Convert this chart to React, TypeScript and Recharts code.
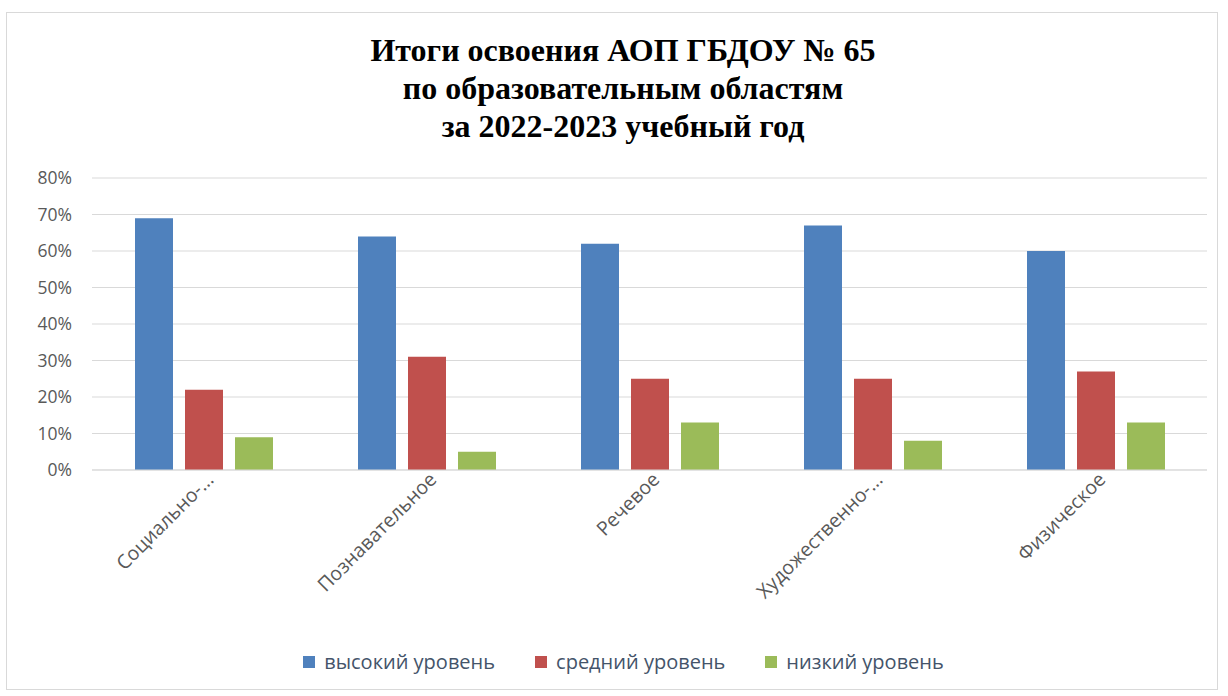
import React from "react";
import { BarChart, Bar, XAxis, YAxis, CartesianGrid, Legend } from "recharts";

const categories = ["Социально-...", "Познавательное", "Речевое", "Художественно-...", "Физическое"];
const high = [0.69, 0.64, 0.62, 0.67, 0.6];
const mid = [0.22, 0.31, 0.25, 0.25, 0.27];
const low = [0.09, 0.05, 0.13, 0.08, 0.13];
const yTicks = [0, 0.1, 0.2, 0.3, 0.4, 0.5, 0.6, 0.7, 0.8];
const titleLines = ["Итоги освоения АОП ГБДОУ № 65", "по образовательным областям", "за 2022-2023 учебный год"];
const seriesNames = ["высокий уровень", "средний уровень", "низкий уровень"];
const seriesColors = ["#4F81BD", "#C0504D", "#9BBB59"];

const data = categories.map((name, i) => ({ name, high: high[i], mid: mid[i], low: low[i] }));

const FONT = "'Open Sans', 'Noto Sans', sans-serif";

const XTick = (props: any) => {
  const { x, y, payload } = props;
  return (
    <g transform={`translate(${x},${y})`}>
      <text
        x={0}
        y={0}
        dx={6}
        dy={10}
        textAnchor="end"
        transform="rotate(-45)"
        fill="#595959"
        fontSize={19.5}
        fontFamily={FONT}
      >
        {payload.value}
      </text>
    </g>
  );
};

const LegendContent = () => (
  <div
    style={{
      display: "flex",
      justifyContent: "center",
      alignItems: "center",
      fontFamily: FONT,
      fontSize: 20,
      color: "#44546A",
      lineHeight: "28px",
      paddingLeft: 10,
    }}
  >
    {seriesNames.map((n, i) => (
      <div key={n} style={{ display: "flex", alignItems: "center", marginRight: i < 2 ? 40 : 0 }}>
        <span style={{ display: "inline-block", width: 12, height: 12, background: seriesColors[i], marginRight: 9 }} />
        <span>{n}</span>
      </div>
    ))}
  </div>
);

export default function App() {
  return (
    <div style={{ position: "absolute", left: 0, top: 0, width: 1228, height: 696, background: "#fff" }}>
      <div
        style={{
          position: "absolute",
          left: 6,
          top: 12,
          width: 1212,
          height: 678,
          border: "1px solid #d9d9d9",
          boxSizing: "border-box",
        }}
      />
      <div
        style={{
          position: "absolute",
          left: 9,
          top: 31,
          width: 1228,
          textAlign: "center",
          fontFamily: "'Liberation Serif', 'Times New Roman', serif",
          fontWeight: "bold",
          fontSize: 32,
          lineHeight: "38px",
          color: "#000",
        }}
      >
        {titleLines.map((l) => (
          <div key={l}>{l}</div>
        ))}
      </div>
      <div style={{ position: "absolute", left: 0, top: 0 }}>
        <BarChart
          width={1228}
          height={696}
          data={data}
          margin={{ top: 178, right: 21, left: 30, bottom: 20 }}
          barGap={12}
          barSize={38}
        >
          <CartesianGrid vertical={false} stroke="#d9d9d9" />
          <XAxis
            dataKey="name"
            interval={0}
            tick={<XTick />}
            tickLine={false}
            axisLine={{ stroke: "#d9d9d9" }}
            height={178}
          />
          <YAxis
            domain={[0, 0.8]}
            ticks={yTicks}
            tickFormatter={(v: number) => `${Math.round(v * 100)}%`}
            axisLine={false}
            tickLine={false}
            width={62}
            tick={{ fill: "#595959", fontSize: 17.5, fontFamily: FONT, dx: -12 }}
          />
          <Legend verticalAlign="bottom" content={<LegendContent />} />
          <Bar dataKey="high" name={seriesNames[0]} fill={seriesColors[0]} isAnimationActive={false} />
          <Bar dataKey="mid" name={seriesNames[1]} fill={seriesColors[1]} isAnimationActive={false} />
          <Bar dataKey="low" name={seriesNames[2]} fill={seriesColors[2]} isAnimationActive={false} />
        </BarChart>
      </div>
    </div>
  );
}
